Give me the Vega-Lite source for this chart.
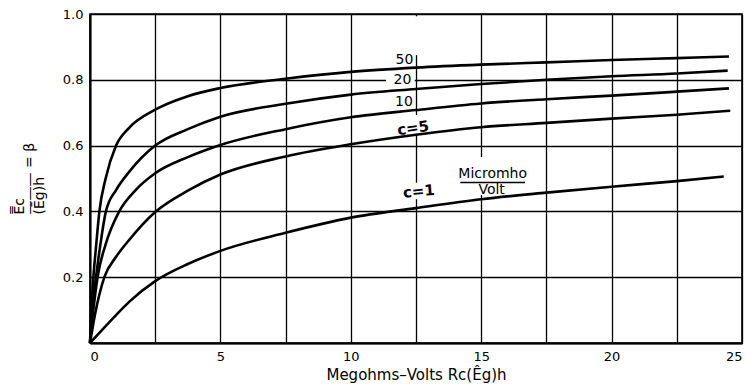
{
  "$schema": "https://vega.github.io/schema/vega-lite/v6.json",
  "autosize": {"type": "none"},
  "padding": {"left": 90, "top": 14, "right": 4, "bottom": 45},
  "width": 652,
  "height": 329,
  "background": "white",
  "config": {
    "view": {"stroke": "black", "strokeWidth": 1.6},
    "font": "DejaVu Sans",
    "axis": {
      "gridColor": "black", "gridOpacity": 1, "gridWidth": 1.3,
      "domainColor": "black", "domainWidth": 2,
      "tickSize": 0, "labelColor": "black", "titleColor": "black",
      "labelFont": "DejaVu Sans", "labelFontSize": 13,
      "titleFont": "DejaVu Sans", "titleFontWeight": "normal", "titleFontSize": 14
    }
  },
  "datasets": {
    "curves": [
      {"c": "50", "x": 0, "y": 0}, {"c": "50", "x": 0.05, "y": 0.1}, {"c": "50", "x": 0.13, "y": 0.2}, {"c": "50", "x": 0.24, "y": 0.3}, {"c": "50", "x": 0.36, "y": 0.4}, {"c": "50", "x": 0.6, "y": 0.5}, {"c": "50", "x": 1.0, "y": 0.6}, {"c": "50", "x": 1.5, "y": 0.654}, {"c": "50", "x": 2.5, "y": 0.709}, {"c": "50", "x": 3.75, "y": 0.75}, {"c": "50", "x": 5, "y": 0.775}, {"c": "50", "x": 7.5, "y": 0.803}, {"c": "50", "x": 10, "y": 0.824}, {"c": "50", "x": 12.5, "y": 0.837}, {"c": "50", "x": 15, "y": 0.846}, {"c": "50", "x": 17.5, "y": 0.853}, {"c": "50", "x": 20, "y": 0.86}, {"c": "50", "x": 22.5, "y": 0.866}, {"c": "50", "x": 24.5, "y": 0.871},
      {"c": "20", "x": 0, "y": 0}, {"c": "20", "x": 0.08, "y": 0.1}, {"c": "20", "x": 0.23, "y": 0.2}, {"c": "20", "x": 0.4, "y": 0.3}, {"c": "20", "x": 0.61, "y": 0.4}, {"c": "20", "x": 1.0, "y": 0.465}, {"c": "20", "x": 1.5, "y": 0.52}, {"c": "20", "x": 2.5, "y": 0.6}, {"c": "20", "x": 3.75, "y": 0.65}, {"c": "20", "x": 5, "y": 0.688}, {"c": "20", "x": 7.5, "y": 0.727}, {"c": "20", "x": 10, "y": 0.755}, {"c": "20", "x": 12.5, "y": 0.772}, {"c": "20", "x": 15, "y": 0.787}, {"c": "20", "x": 17.5, "y": 0.8}, {"c": "20", "x": 20, "y": 0.811}, {"c": "20", "x": 22.5, "y": 0.819}, {"c": "20", "x": 24.45, "y": 0.828},
      {"c": "10", "x": 0, "y": 0}, {"c": "10", "x": 0.1, "y": 0.08}, {"c": "10", "x": 0.29, "y": 0.2}, {"c": "10", "x": 0.6, "y": 0.3}, {"c": "10", "x": 1.12, "y": 0.4}, {"c": "10", "x": 1.75, "y": 0.465}, {"c": "10", "x": 2.5, "y": 0.516}, {"c": "10", "x": 3.75, "y": 0.565}, {"c": "10", "x": 5, "y": 0.602}, {"c": "10", "x": 7.5, "y": 0.65}, {"c": "10", "x": 10, "y": 0.686}, {"c": "10", "x": 12.5, "y": 0.708}, {"c": "10", "x": 15, "y": 0.728}, {"c": "10", "x": 17.5, "y": 0.741}, {"c": "10", "x": 20, "y": 0.752}, {"c": "10", "x": 22.5, "y": 0.764}, {"c": "10", "x": 24.5, "y": 0.774},
      {"c": "5", "x": 0, "y": 0}, {"c": "5", "x": 0.2, "y": 0.09}, {"c": "5", "x": 0.55, "y": 0.2}, {"c": "5", "x": 1.0, "y": 0.262}, {"c": "5", "x": 1.5, "y": 0.313}, {"c": "5", "x": 2.5, "y": 0.398}, {"c": "5", "x": 3.75, "y": 0.463}, {"c": "5", "x": 5, "y": 0.512}, {"c": "5", "x": 7.5, "y": 0.567}, {"c": "5", "x": 10, "y": 0.604}, {"c": "5", "x": 12.5, "y": 0.633}, {"c": "5", "x": 15, "y": 0.656}, {"c": "5", "x": 17.5, "y": 0.669}, {"c": "5", "x": 20, "y": 0.682}, {"c": "5", "x": 22.5, "y": 0.694}, {"c": "5", "x": 24.55, "y": 0.706},
      {"c": "1", "x": 0, "y": 0}, {"c": "1", "x": 1.0, "y": 0.085}, {"c": "1", "x": 1.5, "y": 0.125}, {"c": "1", "x": 2.5, "y": 0.188}, {"c": "1", "x": 3.75, "y": 0.24}, {"c": "1", "x": 5, "y": 0.28}, {"c": "1", "x": 7.5, "y": 0.335}, {"c": "1", "x": 10, "y": 0.381}, {"c": "1", "x": 12.5, "y": 0.41}, {"c": "1", "x": 15, "y": 0.437}, {"c": "1", "x": 17.5, "y": 0.457}, {"c": "1", "x": 20, "y": 0.475}, {"c": "1", "x": 22.5, "y": 0.492}, {"c": "1", "x": 24.3, "y": 0.506}
    ],
    "gaps": [
      {"x": 11.35, "x2": 12.45, "y": 0.787, "y2": 0.813},
      {"x": 12.4, "x2": 12.6, "y": 0.875, "y2": 0.993},
      {"x": 12.3, "x2": 12.7, "y": 0.636, "y2": 0.693},
      {"x": 12.3, "x2": 12.7, "y": 0.437, "y2": 0.487},
      {"x": 14.8, "x2": 15.2, "y": 0.45, "y2": 0.565}
    ],
    "numlabels": [
      {"x": 12.06, "y": 0.859, "t": "50"},
      {"x": 11.98, "y": 0.798, "t": "20"},
      {"x": 12.04, "y": 0.732, "t": "10"},
      {"x": 15.44, "y": 0.514, "t": "Micromho"},
      {"x": 15.4, "y": 0.464, "t": "Volt"}
    ],
    "c5": [{"x": 12.39, "y": 0.653, "t": "c=5"}],
    "c1": [{"x": 12.61, "y": 0.461, "t": "c=1"}],
    "bar": [{"x": 14.2, "x2": 16.68, "y": 0.488}]
  },
  "layer": [
    {
      "data": {"name": "gaps"},
      "mark": {"type": "rect", "color": "white"},
      "encoding": {
        "x": {"field": "x", "type": "quantitative", "scale": {"domain": [0, 25], "nice": false},
          "axis": {"values": [0, 2.5, 5, 7.5, 10, 12.5, 15, 17.5, 20, 22.5, 25],
            "labelExpr": "datum.value % 5 == 0 ? toString(datum.value) : ''",
            "labelPadding": 7, "title": "Megohms–Volts  Rc(Êg)h", "titlePadding": 4, "titleFontSize": 15}},
        "x2": {"field": "x2"},
        "y": {"field": "y", "type": "quantitative", "scale": {"domain": [0, 1], "nice": false},
          "axis": {"values": [0, 0.2, 0.4, 0.6, 0.8, 1.0],
            "labelExpr": "datum.value == 0 ? '' : format(datum.value, '.1f')",
            "labelPadding": 7,
            "title": ["E̿c", "———  = β", "(Ēg)h"],
            "titleAlign": "left", "titleLineHeight": 10, "titleY": 200, "titleX": -64}},
        "y2": {"field": "y2"}
      }
    },
    {
      "data": {"name": "curves"},
      "mark": {"type": "line", "color": "black", "strokeWidth": 2.6, "interpolate": "monotone"},
      "encoding": {
        "x": {"field": "x", "type": "quantitative"},
        "y": {"field": "y", "type": "quantitative"},
        "detail": {"field": "c"}
      }
    },
    {
      "data": {"name": "numlabels"},
      "mark": {"type": "text", "fontSize": 14, "color": "black", "font": "DejaVu Sans"},
      "encoding": {
        "x": {"field": "x", "type": "quantitative"},
        "y": {"field": "y", "type": "quantitative"},
        "text": {"field": "t"}
      }
    },
    {
      "data": {"name": "c5"},
      "mark": {"type": "text", "fontSize": 15, "fontWeight": 600, "color": "black", "angle": -8, "font": "DejaVu Sans"},
      "encoding": {
        "x": {"field": "x", "type": "quantitative"},
        "y": {"field": "y", "type": "quantitative"},
        "text": {"field": "t"}
      }
    },
    {
      "data": {"name": "c1"},
      "mark": {"type": "text", "fontSize": 15, "fontWeight": 600, "color": "black", "angle": -5, "font": "DejaVu Sans"},
      "encoding": {
        "x": {"field": "x", "type": "quantitative"},
        "y": {"field": "y", "type": "quantitative"},
        "text": {"field": "t"}
      }
    },
    {
      "data": {"name": "bar"},
      "mark": {"type": "rule", "color": "black", "strokeWidth": 1.5},
      "encoding": {
        "x": {"field": "x", "type": "quantitative"},
        "x2": {"field": "x2"},
        "y": {"field": "y", "type": "quantitative"}
      }
    }
  ]
}
